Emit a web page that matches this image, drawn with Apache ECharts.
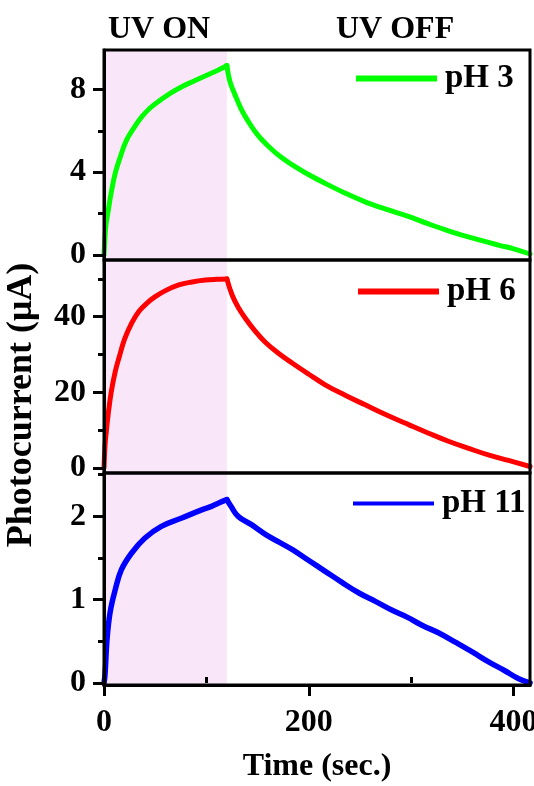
<!DOCTYPE html>
<html><head><meta charset="utf-8">
<script src="https://cdn.jsdelivr.net/npm/echarts@6/dist/echarts.min.js"></script>
<style>html,body{margin:0;padding:0;background:#fff;overflow:hidden}#c{width:534px;height:786px}</style>
</head><body><div id="c"></div>
<script>
// ---- data (time in sec, photocurrent in µA) ----
const ph3Time = [0, 1, 2, 4, 7, 11, 16, 22, 30, 37, 45, 55, 65, 76, 87, 97, 108, 117, 120, 123, 128, 134, 141, 150, 161, 173, 187, 201, 216, 235, 255, 276, 298, 317, 337, 361, 386, 400, 416];
const ph3Val  = [0, 0.9, 1.5, 2.1, 3.0, 3.95, 4.75, 5.55, 6.2, 6.68, 7.1, 7.48, 7.82, 8.13, 8.38, 8.61, 8.85, 9.07, 9.15, 8.37, 7.73, 7.05, 6.44, 5.8, 5.23, 4.72, 4.26, 3.85, 3.46, 3.0, 2.57, 2.2, 1.85, 1.5, 1.16, 0.8, 0.47, 0.3, 0.05];
const ph6Time = [0, 1, 2, 4, 7, 11, 15, 20, 27, 34, 42, 50, 60, 73, 86, 99, 110, 120, 125, 131, 138, 147, 157, 170, 184, 200, 216, 235, 255, 276, 298, 317, 337, 356, 376, 395, 416];
const ph6Val  = [0, 6, 9, 14, 20, 25.5, 29.5, 34, 38.3, 41.4, 43.6, 45.3, 46.9, 48.4, 49.2, 49.7, 49.9, 50.0, 45.8, 42.5, 39.6, 36.4, 33.4, 30.4, 27.7, 24.8, 22, 19.3, 16.7, 14, 11.4, 9.2, 7.0, 5.2, 3.4, 2.0, 0.4];
const ph11Time = [0, 1, 3, 6, 11, 17, 27, 40, 56, 76, 96, 105, 112, 120, 124, 131, 144, 158, 171, 184, 200, 216, 232, 249, 265, 282, 296, 311, 327, 343, 360, 376, 391, 405, 416];
const ph11Val  = [0, 0.1, 0.53, 0.85, 1.12, 1.36, 1.56, 1.74, 1.88, 1.98, 2.08, 2.12, 2.16, 2.2, 2.12, 2.0, 1.9, 1.78, 1.69, 1.6, 1.47, 1.34, 1.21, 1.08, 0.98, 0.87, 0.79, 0.69, 0.6, 0.49, 0.37, 0.25, 0.15, 0.05, 0.0];
const uvOnRange = [0, 120];
const xTicks = [0, 200, 400];
const xMinor = [100, 300];
const ph3Ticks = [0, 4, 8];
const ph3Minor = [2, 6];
const ph6Ticks = [0, 20, 40];
const ph6Minor = [10, 30, 50];
const ph11Ticks = [0, 1, 2];
const ph11Minor = [0.5, 1.5, 2.5];

const FONT = "'Liberation Serif','Times New Roman',serif";
const zip = (a, b) => a.map((v, i) => [v, b[i]]);
const txt = (size) => ({fontFamily: FONT, fontWeight: 'bold', fontSize: size, color: '#000'});

const grids = [
  {top: 50, height: 210},
  {top: 260, height: 213},
  {top: 473, height: 212}
].map(g => Object.assign({left: 104, right: 4, show: true, borderColor: '#000', borderWidth: 3, z: 10,
  outerBoundsMode: 'none', containLabel: false}, g));

const yRanges = [[-0.24, 9.9], [-1.32, 55.0], [-0.024, 2.52]];
const yMajor = [ph3Ticks, ph6Ticks, ph11Ticks];
const yMinor = [ph3Minor, ph6Minor, ph11Minor];

const yAxes = [];
yRanges.forEach((r, i) => {
  yAxes.push({type: 'value', gridIndex: i, min: r[0], max: r[1], position: 'left', z: 10,
    axisLine: {show: true, onZero: false, lineStyle: {color: '#000', width: 3}},
    axisTick: {show: true, length: 11, lineStyle: {color: '#000', width: 3}, customValues: yMajor[i]},
    axisLabel: Object.assign({margin: 18, customValues: yMajor[i]}, txt(32)),
    splitLine: {show: false}});
  yAxes.push({type: 'value', gridIndex: i, min: r[0], max: r[1], position: 'left', z: 10,
    axisLine: {show: false},
    axisTick: {show: true, length: 6, lineStyle: {color: '#000', width: 3}, customValues: yMinor[i]},
    axisLabel: {show: false}, splitLine: {show: false}});
});

const XMAX = 416;
const xAxes = [
  {type: 'value', gridIndex: 0, min: 0, max: XMAX, show: false},
  {type: 'value', gridIndex: 1, min: 0, max: XMAX, show: false},
  {type: 'value', gridIndex: 2, min: 0, max: XMAX, z: 10,
    axisLine: {show: true, onZero: false, lineStyle: {color: '#000', width: 3}},
    axisTick: {show: true, length: 11, lineStyle: {color: '#000', width: 3}, customValues: xTicks},
    axisLabel: Object.assign({margin: 22, customValues: xTicks, hideOverlap: false}, txt(32)),
    splitLine: {show: false},
    name: 'Time (sec.)', nameLocation: 'middle', nameGap: 66, nameTextStyle: txt(32)},
  {type: 'value', gridIndex: 2, min: 0, max: XMAX, z: 10,
    axisLine: {show: false},
    axisTick: {show: true, length: 6, lineStyle: {color: '#000', width: 3}, customValues: xMinor},
    axisLabel: {show: false}, splitLine: {show: false}}
];

const area = {silent: true, itemStyle: {color: '#F9E7F9'}, data: [[{xAxis: uvOnRange[0]}, {xAxis: uvOnRange[1]}]]};
// each curve is drawn as its UV-on (rise) and UV-off (decay) part so the switch-off cusp stays sharp
const mkSeries = (name, t, v, color, width, gi) => {
  const pts = zip(t, v);
  const rise = pts.filter(p => p[0] <= uvOnRange[1]);
  const decay = pts.filter(p => p[0] >= uvOnRange[1]);
  const base = {type: 'line', name, xAxisIndex: gi, yAxisIndex: gi * 2, showSymbol: false, symbol: 'none',
    smooth: 0.4, lineStyle: {color, width, cap: 'round', join: 'round'}, itemStyle: {color}, clip: true};
  return [Object.assign({}, base, {data: rise, markArea: area}), Object.assign({}, base, {data: decay})];
};

const legendBase = (name, left, top, h) => ({data: [name], left, top, icon: 'rect', itemWidth: 81, itemHeight: h,
  padding: 0, textStyle: Object.assign({padding: [0, 0, 0, 3]}, txt(33)), selectedMode: false});

const chart = echarts.init(document.getElementById('c'), null, {renderer: 'canvas'});
chart.setOption({
  animation: false,
  backgroundColor: '#fff',
  title: [
    {text: 'UV ON', left: 108, top: 14, padding: 0, textStyle: txt(32)},
    {text: 'UV OFF', left: 336, top: 14, padding: 0, textStyle: txt(32)}
  ],
  legend: [
    legendBase('pH 3', 356, 62, 6),
    legendBase('pH 6', 358, 275, 6),
    legendBase('pH 11', 353, 487, 4)
  ],
  grid: grids,
  xAxis: xAxes,
  yAxis: yAxes,
  graphic: [{type: 'text', x: 22, y: 405, rotation: Math.PI / 2, z: 20,
    style: {text: 'Photocurrent (μA)', align: 'center', verticalAlign: 'middle',
      font: "bold 36px 'Liberation Serif','Times New Roman',serif", fill: '#000'}}],
  series: [].concat(
    mkSeries('pH 3', ph3Time, ph3Val, '#00FF00', 5, 0),
    mkSeries('pH 6', ph6Time, ph6Val, '#FF0000', 5, 1),
    mkSeries('pH 11', ph11Time, ph11Val, '#0000FF', 5.5, 2)
  )
});
</script></body></html>
